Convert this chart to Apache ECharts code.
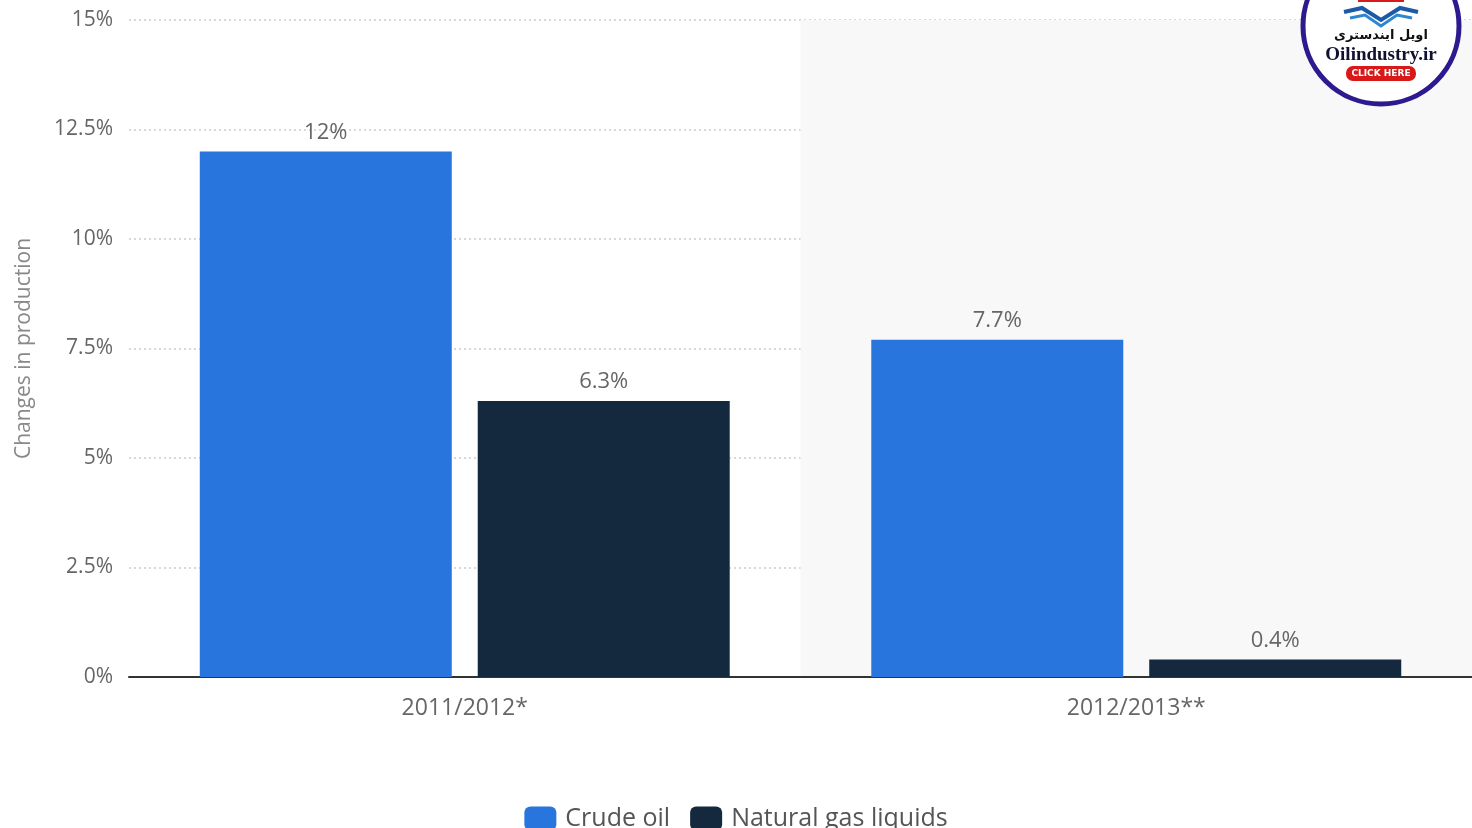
<!DOCTYPE html>
<html>
<head>
<meta charset="utf-8">
<script src="https://cdn.jsdelivr.net/npm/echarts@6/dist/echarts.min.js"></script>
<style>html,body{margin:0;padding:0;background:#fff}#c{width:1472px;height:828px}</style>
</head>
<body>
<div id="c"></div>
<script>
const categories = ['2011/2012*', '2012/2013**'];
const crudeOil = [12, 7.7];
const naturalGasLiquids = [6.3, 0.4];
const seriesNames = ['Crude oil', 'Natural gas liquids'];
const yTicks = { min: 0, max: 15, interval: 2.5 };

const chart = echarts.init(document.getElementById('c'));
const fontFam = '"Open Sans", "DejaVu Sans", sans-serif';
const labelCfg = {
  show: true, position: 'top', distance: 8,
  color: '#666', fontSize: 22, fontFamily: fontFam,
  formatter: p => p.value + '%'
};
chart.setOption({
  animation: false,
  textStyle: { fontFamily: fontFam },
  grid: { left: 129, right: -3, top: 20, bottom: 151 },
  legend: {
    bottom: -8, left: 'center',
    itemWidth: 32, itemHeight: 24, itemGap: 20,
    icon: 'roundRect',
    textStyle: { fontSize: 25, color: '#555', fontFamily: fontFam, padding: [0, 0, 0, 4] },
    data: seriesNames
  },
  xAxis: {
    type: 'category', data: categories,
    axisLine: { lineStyle: { color: '#333', width: 2 } },
    axisTick: { show: false },
    axisLabel: { color: '#666', fontSize: 23, margin: 20 },
    splitArea: { show: true, areaStyle: { color: ['rgba(0,0,0,0)', '#f8f8f8'] } }
  },
  yAxis: {
    type: 'value', min: yTicks.min, max: yTicks.max, interval: yTicks.interval,
    name: 'Changes in production', nameLocation: 'middle', nameGap: 94,
    nameTextStyle: { color: '#888', fontSize: 21 },
    axisLabel: { color: '#666', fontSize: 21, margin: 16, formatter: v => v + '%' },
    axisLine: { show: false }, axisTick: { show: false },
    splitLine: { lineStyle: { color: '#ccc', type: [2, 3], width: 1.5 } }
  },
  series: [
    { name: seriesNames[0], type: 'bar', data: crudeOil, barWidth: 252, barGap: '10.3%',
      itemStyle: { color: '#2876dd' }, label: labelCfg },
    { name: seriesNames[1], type: 'bar', data: naturalGasLiquids, barWidth: 252,
      itemStyle: { color: '#14283e' }, label: labelCfg }
  ],
  graphic: [
    { type: 'circle', shape: { cx: 1381, cy: 26, r: 78 }, style: { fill: '#fff', stroke: '#2c1a8e', lineWidth: 5 }, z: 100 },
    { type: 'rect', shape: { x: 1358, y: -6, width: 46, height: 8 }, style: { fill: '#d81c1c' }, z: 101 },
    { type: 'polyline', shape: { points: [[1344, 12], [1362, 8], [1381, 20], [1400, 8], [1418, 12]] }, style: { stroke: '#1c5aa8', lineWidth: 4, fill: null }, z: 101 },
    { type: 'polyline', shape: { points: [[1350, 18], [1365, 15], [1381, 26], [1397, 15], [1412, 18]] }, style: { stroke: '#2d86d0', lineWidth: 3, fill: null }, z: 101 },
    { type: 'text', style: { x: 1381, y: 36, text: 'اویل ایندستری', align: 'center', verticalAlign: 'middle', fill: '#111', font: 'bold 13px "DejaVu Sans", sans-serif' }, z: 101 },
    { type: 'text', style: { x: 1381, y: 55, text: 'Oilindustry.ir', align: 'center', verticalAlign: 'middle', fill: '#101030', font: 'bold 19px "Liberation Serif", serif' }, z: 101 },
    { type: 'rect', shape: { x: 1346, y: 66, width: 70, height: 15, r: 7 }, style: { fill: '#d91818' }, z: 101 },
    { type: 'text', style: { x: 1381, y: 74, text: 'CLICK HERE', align: 'center', verticalAlign: 'middle', fill: '#fff', font: 'bold 9px "DejaVu Sans", sans-serif' }, z: 102 }
  ]
});
</script>
</body>
</html>
